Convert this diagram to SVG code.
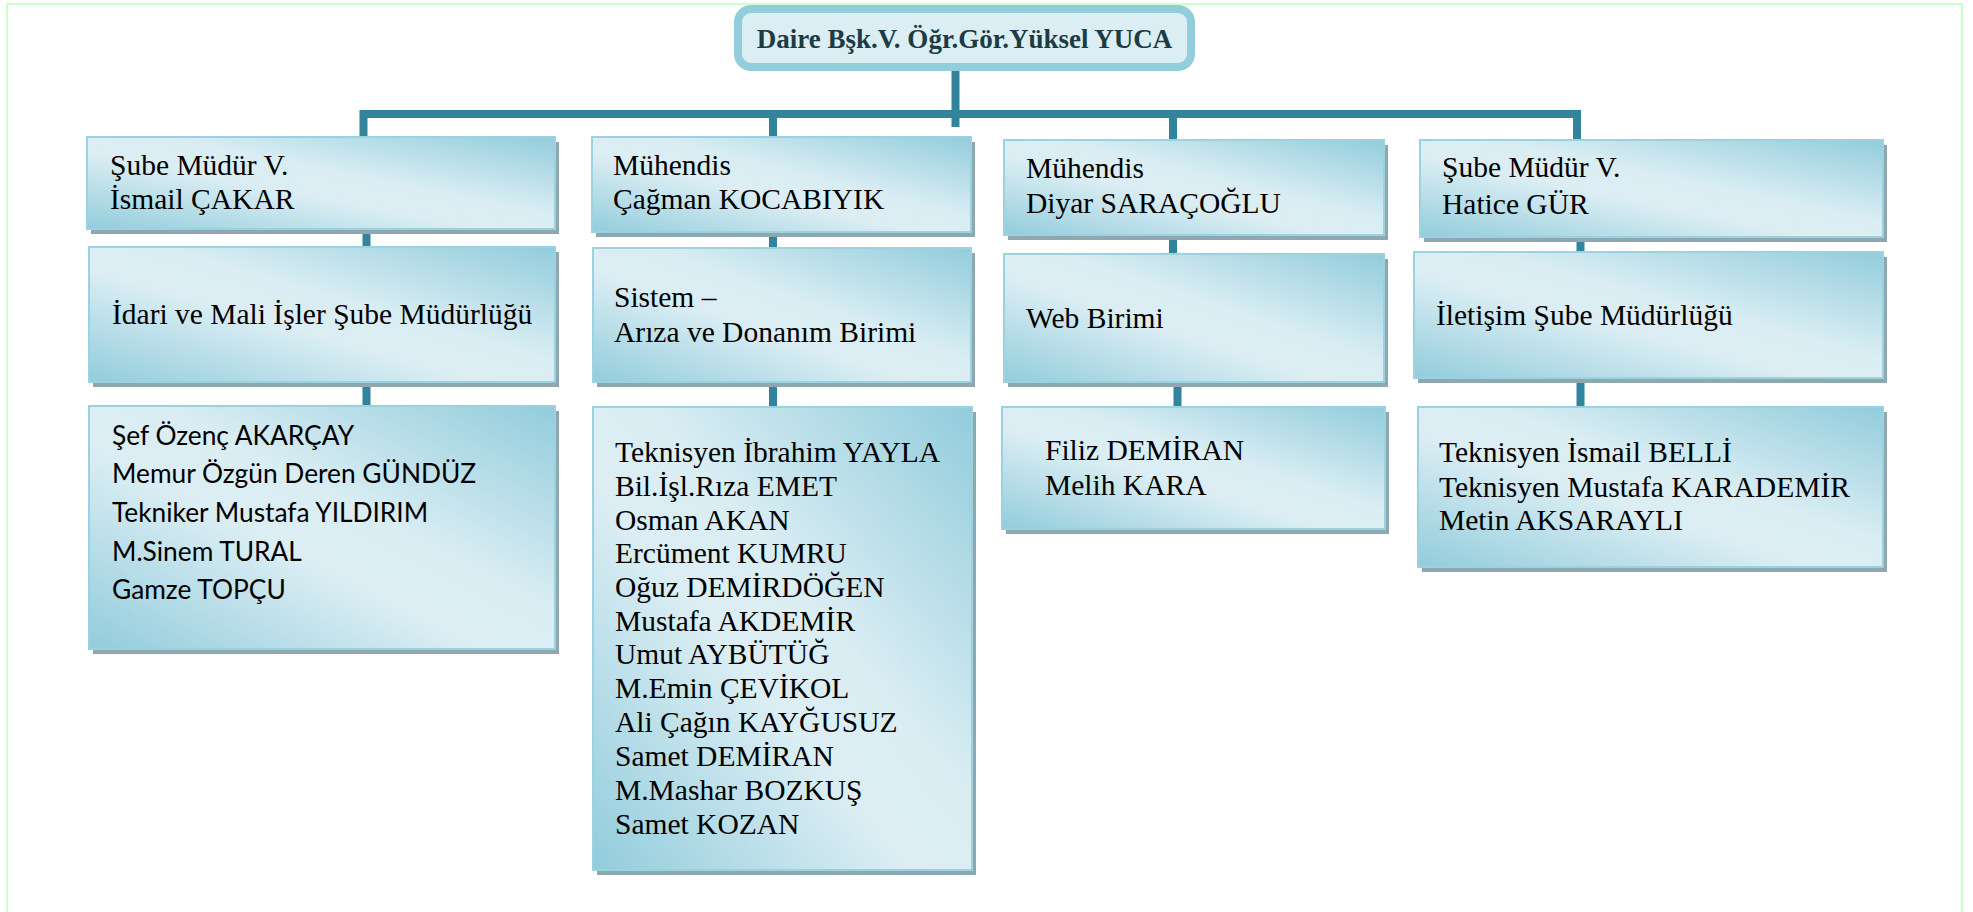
<svg xmlns="http://www.w3.org/2000/svg" width="1973" height="912" viewBox="0 0 1973 912">
<defs>
<linearGradient id="g" x1="1" y1="0" x2="0" y2="1">
<stop offset="0" stop-color="#92ccdc"/>
<stop offset="0.42" stop-color="#d9edf3"/>
<stop offset="0.58" stop-color="#dceef4"/>
<stop offset="1" stop-color="#92ccdc"/>
</linearGradient>
</defs>
<style>
.box{fill:url(#g);stroke:#9ad2e0;stroke-width:2}
.sh{fill:#8fa7b0}
.t{font-family:"Liberation Serif","Times New Roman",serif;font-size:29.5px;fill:#000}
.s{font-family:Lato,"Open Sans",sans-serif;font-size:26.3px;fill:#000}
.con{fill:none;stroke:#31849b;stroke-width:8}
</style>
<rect x="0" y="0" width="1973" height="912" fill="#fff"/>
<path d="M7,920 V4 H1962 V920" fill="none" stroke="#ccffcc" stroke-width="2"/>
<g id="connectors">
<path class="con" d="M363.5,137 V114 H1577 V140"/>
<path class="con" d="M955.5,71 V127"/>
<path class="con" d="M773,114 V137"/>
<path class="con" d="M1173,114 V140"/>
<path class="con" d="M366.5,229 V247 M366.5,382 V406"/>
<path class="con" d="M773,232 V248 M773,382 V407"/>
<path class="con" d="M1173,235 V254 M1177.5,382 V407"/>
<path class="con" d="M1580.5,237 V252 M1580.5,378 V407"/>
</g>
<g id="root">
<rect x="738" y="9" width="453" height="58" rx="13" fill="#daeef3" stroke="#92cddc" stroke-width="8"/>
<text x="964.5" y="48" text-anchor="middle" font-family="Liberation Serif,Times New Roman,serif" font-weight="bold" font-size="27" fill="#1d3b44">Daire Bşk.V. Öğr.Gör.Yüksel YUCA</text>
</g>
<g id="c1b1">
<rect class="sh" x="91" y="142" width="468" height="92"/>
<rect class="box" x="87" y="137" width="468" height="92"/>
<text class="t" x="110" y="175">Şube Müdür V.</text>
<text class="t" x="110" y="209">İsmail ÇAKAR</text>
</g>
<g id="c1b2">
<rect class="sh" x="93" y="252" width="466" height="135"/>
<rect class="box" x="89" y="247" width="466" height="135"/>
<text class="t" x="112" y="324">İdari ve Mali İşler Şube Müdürlüğü</text>
</g>
<g id="c1b3">
<rect class="sh" x="93" y="411" width="466" height="243"/>
<rect class="box" x="89" y="406" width="466" height="243"/>
<text class="s" x="112" y="445">Şef Özenç AKARÇAY</text>
<text class="s" x="112" y="483">Memur Özgün Deren GÜNDÜZ</text>
<text class="s" x="112" y="522">Tekniker Mustafa YILDIRIM</text>
<text class="s" x="112" y="561">M.Sinem TURAL</text>
<text class="s" x="112" y="599">Gamze TOPÇU</text>
</g>
<g id="c2b1">
<rect class="sh" x="596" y="142" width="379" height="95"/>
<rect class="box" x="592" y="137" width="379" height="95"/>
<text class="t" x="613" y="175">Mühendis</text>
<text class="t" x="613" y="209">Çağman KOCABIYIK</text>
</g>
<g id="c2b2">
<rect class="sh" x="597" y="253" width="378" height="134"/>
<rect class="box" x="593" y="248" width="378" height="134"/>
<text class="t" x="614" y="307">Sistem –</text>
<text class="t" x="614" y="342">Arıza ve Donanım Birimi</text>
</g>
<g id="c2b3">
<rect class="sh" x="597" y="412" width="379" height="463"/>
<rect class="box" x="593" y="407" width="379" height="463"/>
<text class="t" x="615" y="462">Teknisyen İbrahim YAYLA</text>
<text class="t" x="615" y="496">Bil.İşl.Rıza EMET</text>
<text class="t" x="615" y="530">Osman AKAN</text>
<text class="t" x="615" y="563">Ercüment KUMRU</text>
<text class="t" x="615" y="597">Oğuz DEMİRDÖĞEN</text>
<text class="t" x="615" y="631">Mustafa AKDEMİR</text>
<text class="t" x="615" y="664">Umut AYBÜTÜĞ</text>
<text class="t" x="615" y="698">M.Emin ÇEVİKOL</text>
<text class="t" x="615" y="732">Ali Çağın KAYĞUSUZ</text>
<text class="t" x="615" y="766">Samet DEMİRAN</text>
<text class="t" x="615" y="800">M.Mashar BOZKUŞ</text>
<text class="t" x="615" y="834">Samet KOZAN</text>
</g>
<g id="c3b1">
<rect class="sh" x="1008" y="145" width="380" height="95"/>
<rect class="box" x="1004" y="140" width="380" height="95"/>
<text class="t" x="1026" y="178">Mühendis</text>
<text class="t" x="1026" y="213">Diyar SARAÇOĞLU</text>
</g>
<g id="c3b2">
<rect class="sh" x="1008" y="259" width="380" height="128"/>
<rect class="box" x="1004" y="254" width="380" height="128"/>
<text class="t" x="1026" y="328">Web Birimi</text>
</g>
<g id="c3b3">
<rect class="sh" x="1006" y="412" width="383" height="122"/>
<rect class="box" x="1002" y="407" width="383" height="122"/>
<text class="t" x="1045" y="460">Filiz DEMİRAN</text>
<text class="t" x="1045" y="495">Melih KARA</text>
</g>
<g id="c4b1">
<rect class="sh" x="1424" y="145" width="463" height="97"/>
<rect class="box" x="1420" y="140" width="463" height="97"/>
<text class="t" x="1442" y="177">Şube Müdür V.</text>
<text class="t" x="1442" y="214">Hatice GÜR</text>
</g>
<g id="c4b2">
<rect class="sh" x="1418" y="257" width="469" height="126"/>
<rect class="box" x="1414" y="252" width="469" height="126"/>
<text class="t" x="1436" y="325">İletişim Şube Müdürlüğü</text>
</g>
<g id="c4b3">
<rect class="sh" x="1422" y="412" width="465" height="160"/>
<rect class="box" x="1418" y="407" width="465" height="160"/>
<text class="t" x="1439" y="462">Teknisyen İsmail BELLİ</text>
<text class="t" x="1439" y="497">Teknisyen Mustafa KARADEMİR</text>
<text class="t" x="1439" y="530">Metin AKSARAYLI</text>
</g>
</svg>
